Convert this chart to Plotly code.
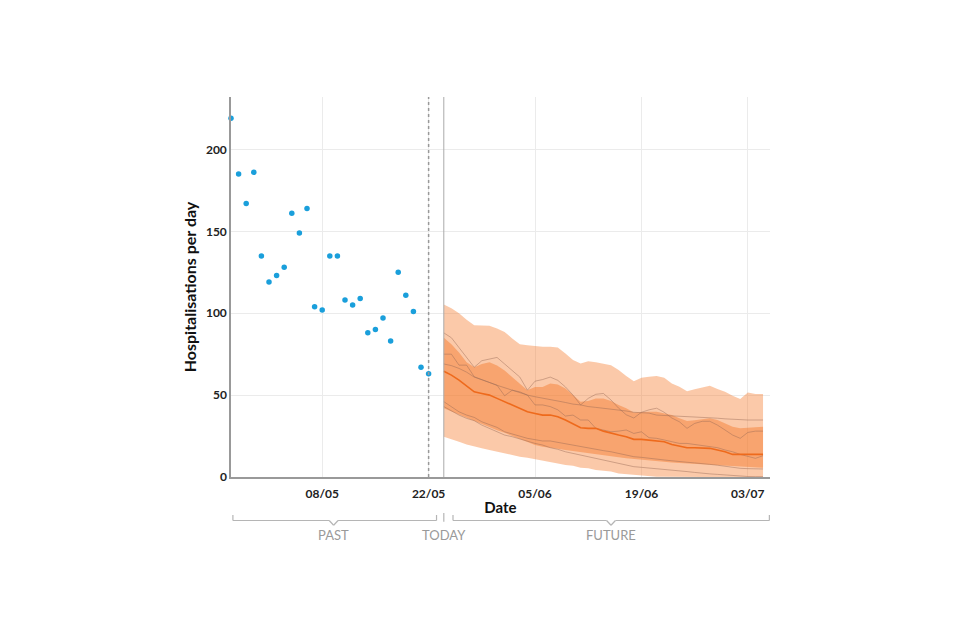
import datetime as dt
import plotly.graph_objects as go

# observed daily hospitalisations, 26/04 .. 22/05
past_start = dt.date(2021, 4, 26)
past_values = [219, 185, 167, 186, 135, 119, 123, 128, 161, 149, 164, 104, 102,
               135, 135, 108, 105, 109, 88, 90, 97, 83, 125, 111, 101, 67, 63]

# forecast, 24/05 .. 05/07
future_start = dt.date(2021, 5, 24)
median = [64.6, 62.2, 59.2, 55.7, 52, 51, 50, 48, 45.9, 43.9, 41.9, 39.8, 38.8, 37.8,
          37.8, 36.8, 34.8, 32.7, 30.1, 29.7, 29.7, 28, 26.6, 25.6, 24.6, 23, 23, 22.6,
          22, 21.5, 19.9, 19.1, 17.9, 17.9, 17.9, 17.5, 16.5, 15.4, 13.8, 13.8, 13.4, 13.4, 13.8]
upper90 = [105.3, 103, 100, 96, 92.7, 92.7, 92.3, 90.7, 88.6, 84.6, 81, 80.5, 80, 79.5,
           79.5, 79, 75.4, 71.4, 69.3, 70.7, 70, 69.3, 68.3, 65.3, 61.6, 58.5, 60.6, 61.2,
           61.6, 60.6, 57.1, 55.1, 52.4, 53.5, 54.5, 55.7, 53.7, 52, 49.6, 47.6, 51.6, 50.6, 50.6]
lower90 = [24.6, 23.2, 21.5, 19.9, 18.5, 17.5, 16.5, 15.4, 14.4, 13.4, 12.4, 11.8, 11, 10,
           9.3, 8.3, 7.3, 6.9, 5.7, 5.3, 4.3, 3.7, 3.3, 2.2, 1.8, 1.2, 0.8, 0.3,
           0.2, 0.1, 0, 0, 0, 0, 0, 0, 0, 0, 0, 0, 0, 0, 0]
upper50 = [85, 81, 76, 70, 67, 69, 70, 68, 65, 61, 57, 53, 55, 55,
           57.1, 56.5, 54, 50, 46, 46.4, 48, 48, 46.4, 43.9, 41.9, 39.4, 39.8, 39.8,
           39.8, 38.8, 37.8, 35.8, 34.2, 34.6, 35.4, 35.8, 34.8, 32.7, 30.7, 29.7, 30.1, 30.7, 30.7]
lower50 = [42, 40, 38, 36, 34.5, 32.5, 30.5, 28.5, 27, 25, 23, 21, 19.5, 18.5,
           18, 17.2, 16.5, 15.8, 15.2, 14.5, 13.8, 13.2, 12.6, 12, 11.5, 11, 10.5, 10,
           9.6, 9.2, 8.9, 8.6, 8.3, 8, 7.7, 7.4, 7.1, 6.8, 6.5, 6.2, 6, 5.8, 5.6]

# a few sampled trajectories
traj_a = [88, 85, 79, 73, 67, 71, 72, 73, 69, 65, 61, 53, 58.5, 59.5,
          61, 59, 55, 50, 44, 48, 50.5, 51, 47, 42, 38, 36, 39.5, 41,
          42, 39.5, 36, 33.7, 29.7, 32.7, 34, 34, 31.7, 28.7, 25.6, 23.6, 27.2, 28, 28]
traj_b = [69, 68, 66.3, 64, 61, 59.5, 57.7, 56, 54.5, 53, 51.6, 50, 49, 48,
          47.4, 46.4, 45.5, 44.5, 44, 43, 42.5, 42, 41.3, 41, 40.3, 39.5, 39.2, 39,
          37.8, 37.6, 37.4, 37.1, 37, 36.8, 36.5, 36.2, 35.9, 35.5, 35.2, 34.8, 34.8, 34.8, 34.8]
traj_c = [75, 75, 68.3, 68.3, 61.2, 59.5, 57.7, 56, 49.6, 53, 52, 50, 44, 44,
          43, 41, 37.2, 37.8, 34.8, 34.8, 29.7, 28.7, 27.6, 28, 28.7, 26.6, 27.6, 24,
          23.6, 22.6, 21.5, 20.5, 20.5, 19.9, 19.5, 18.5, 17.9, 16.5, 15.4, 13.8, 12.4, 11.4, 13]
traj_d = [46, 43, 39.8, 37.8, 36.4, 33.7, 32.1, 30.3, 27.6, 26.2, 25, 23.6, 22.8, 22,
          22, 21.1, 20.5, 19.5, 18.5, 17.5, 16.9, 16.1, 15.4, 14.4, 13.4, 12.4, 12, 11.6,
          11, 10.4, 9.9, 9.3, 9, 8.6, 8.3, 7.7, 7.2, 6.5, 5.9, 5.3, 5.1, 5, 4.9]
traj_e = [43, 40.3, 37.8, 35.8, 34.4, 31.7, 29.7, 27.6, 25.6, 24.6, 23.2, 22, 20.5, 19.5,
          17.9, 16.9, 15.4, 14.4, 13.4, 12.4, 11.4, 10.4, 9.3, 8.3, 7.3, 6.3, 5.9, 5.5,
          5.3, 4.8, 4.3, 3.7, 3.3, 2.8, 2.2, 1.9, 1.6, 1.2, 0.9, 0.6, 0.3, 0.2, 0.2]

past_dates = [past_start + dt.timedelta(days=i) for i in range(len(past_values))]
future_dates = [future_start + dt.timedelta(days=i) for i in range(len(median))]

light = "rgba(245,120,40,0.4)"
dark = "rgba(245,120,40,0.45)"
traj_col = "rgba(150,105,85,0.45)"

fig = go.Figure()

fig.add_trace(go.Scatter(x=future_dates, y=lower90, mode="lines",
                         line=dict(width=0), hoverinfo="skip", showlegend=False))
fig.add_trace(go.Scatter(x=future_dates, y=upper90, mode="lines", fill="tonexty",
                         fillcolor=light, line=dict(width=0), showlegend=False))
fig.add_trace(go.Scatter(x=future_dates, y=lower50, mode="lines",
                         line=dict(width=0), hoverinfo="skip", showlegend=False))
fig.add_trace(go.Scatter(x=future_dates, y=upper50, mode="lines", fill="tonexty",
                         fillcolor=dark, line=dict(width=0), showlegend=False))

for t in [traj_a, traj_b, traj_c, traj_d, traj_e]:
    fig.add_trace(go.Scatter(x=future_dates, y=t, mode="lines",
                             line=dict(color=traj_col, width=1), showlegend=False))

fig.add_trace(go.Scatter(x=future_dates, y=median, mode="lines",
                         line=dict(color="#ee6a1c", width=1.6), showlegend=False))

fig.add_trace(go.Scatter(x=past_dates, y=past_values, mode="markers", cliponaxis=False,
                         marker=dict(color="#1a9fdb", size=5.5), showlegend=False))

# today markers
fig.add_shape(type="line", xref="x", yref="paper", x0="2021-05-22", x1="2021-05-22",
              y0=0, y1=1, line=dict(color="#999", width=1.5, dash="dot"))
fig.add_shape(type="line", xref="x", yref="paper", x0="2021-05-24", x1="2021-05-24",
              y0=0, y1=1, line=dict(color="#aaa", width=1))

# brackets under the axis
br_col = "#b5b5b5"
yb, ye, yn = -0.1145, -0.100, -0.127


def bracket(start, end, centre):
    c0 = (dt.datetime.fromisoformat(centre) - dt.timedelta(hours=14)).isoformat()
    c1 = (dt.datetime.fromisoformat(centre) + dt.timedelta(hours=14)).isoformat()
    segs = [(start, ye, start, yb), (start, yb, c0, yb), (c0, yb, centre, yn),
            (centre, yn, c1, yb), (c1, yb, end, yb), (end, yb, end, ye)]
    for x0, y0, x1, y1 in segs:
        fig.add_shape(type="line", xref="x", yref="paper", x0=x0, y0=y0, x1=x1, y1=y1,
                      line=dict(color=br_col, width=1.2))


bracket("2021-04-26T06:00:00", "2021-05-23T01:00:00", "2021-05-09T12:00:00")
bracket("2021-05-25T05:00:00", "2021-07-05T20:00:00", "2021-06-15T00:00:00")
fig.add_shape(type="line", xref="x", yref="paper", x0="2021-05-24", x1="2021-05-24",
              y0=-0.095, y1=-0.118, line=dict(color=br_col, width=1.2))

for text, xpos in [("PAST", "2021-05-09T12:00:00"), ("TODAY", "2021-05-24"),
                   ("FUTURE", "2021-06-15")]:
    fig.add_annotation(x=xpos, y=-0.153, xref="x", yref="paper", text=text,
                       xanchor="center", yanchor="middle",
                       showarrow=False, font=dict(size=13, color="#9a9a9a"))

fig.update_layout(
    width=960, height=640,
    margin=dict(l=223, r=198, t=89, b=171),
    paper_bgcolor="white", plot_bgcolor="white",
    font=dict(family="Lato, sans-serif", color="#222"),
    xaxis=dict(
        type="date", range=["2021-04-26", "2021-07-05T22:00:00"],
        tick0="2021-05-08", dtick=14 * 86400000, tickformat="%d/%m",
        showgrid=True, gridcolor="#ebebeb", gridwidth=1,
        showline=True, linecolor="#999", linewidth=1.5,
        ticks="", ticklabelstandoff=5,
        tickfont=dict(size=12, color="#222", weight="bold"),
        title=dict(text="<b>Date</b>", font=dict(size=15, color="#111"), standoff=2),
        zeroline=False,
    ),
    yaxis=dict(
        range=[0, 232], tickvals=[0, 50, 100, 150, 200],
        showgrid=True, gridcolor="#ebebeb", gridwidth=1,
        showline=True, linecolor="#999", linewidth=1.5,
        ticks="", ticklabelstandoff=0,
        tickfont=dict(size=12, color="#222", weight="bold"),
        title=dict(text="<b>Hospitalisations per day</b>", font=dict(size=16, color="#111"),
                   standoff=5),
        zeroline=False,
    ),
)

fig.write_html("out.html")
